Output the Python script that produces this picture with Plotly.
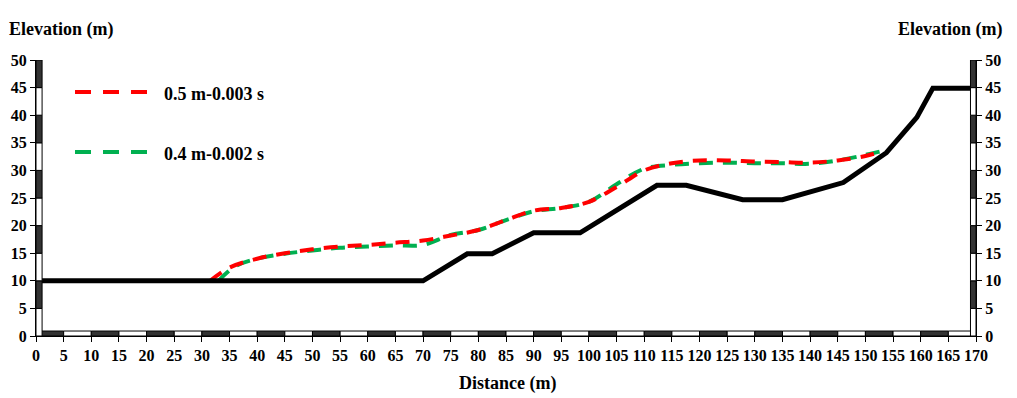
import plotly.graph_objects as go

# ground profile
ground_x = [0, 70, 78, 82.5, 90, 98.4, 112.3, 117.6, 127.8, 135, 146, 153.8, 159.3, 162.2, 170]
ground_y = [10, 10, 14.9, 14.9, 18.7, 18.7, 27.3, 27.3, 24.7, 24.7, 27.8, 33.2, 39.6, 44.9, 44.9]

# 0.5 m-0.003 s
red_x = [31.5, 35, 40, 45, 50, 55, 60, 65, 70, 75, 80, 85, 90, 95, 100, 105, 110, 115, 120, 125, 130, 135, 140, 145, 150, 153]
red_y = [10, 12.4, 14.0, 15.0, 15.7, 16.2, 16.5, 16.9, 17.3, 18.2, 19.2, 21.0, 22.7, 23.2, 24.3, 27.0, 30.0, 31.3, 31.8, 31.8, 31.6, 31.5, 31.4, 31.8, 32.6, 33.5]

# 0.4 m-0.002 s
green_x = [33, 36, 40, 45, 50, 55, 60, 65, 70, 75, 80, 85, 90, 95, 100, 105, 110, 115, 120, 125, 130, 135, 140, 145, 150, 153]
green_y = [10, 12.6, 14.0, 14.9, 15.5, 16.0, 16.2, 16.4, 16.5, 18.3, 19.2, 21.0, 22.6, 23.2, 24.3, 27.5, 30.3, 31.0, 31.3, 31.4, 31.3, 31.3, 31.2, 31.8, 32.8, 33.5]

legend_names = ["0.5 m-0.003 s", "0.4 m-0.002 s"]
legend_colors = ["#ff0000", "#00b050"]

FONT = "Liberation Serif"
tick_font = dict(family=FONT, size=16, color="black", weight="bold")
title_font = dict(family=FONT, size=18, color="black", weight="bold")

# page body has an 8px margin: plot area lands at x 36..976, y 60..336 on screen
OFF = 8
L, T = 36 - OFF, 60 - OFF
W, H = 1017 - 2 * OFF, 398 - OFF
R = OFF + W - 976
B = OFF + H - 336
PW, PH = 940, 276


def px(x):
    return (x - 36) / PW


def py(y):
    return (336 - y) / PH


fig = go.Figure()
fig.add_trace(go.Scatter(x=green_x, y=green_y, mode="lines", line_shape="spline",
                         line=dict(color=legend_colors[1], width=4, dash="14px,10px"),
                         showlegend=False))
fig.add_trace(go.Scatter(x=red_x, y=red_y, mode="lines", line_shape="spline",
                         line=dict(color=legend_colors[0], width=4, dash="14px,10px"),
                         showlegend=False))
fig.add_trace(go.Scatter(x=ground_x, y=ground_y, mode="lines",
                         line=dict(color="black", width=5), showlegend=False))
# invisible trace for the right axis
fig.add_trace(go.Scatter(x=[0], y=[0], yaxis="y2", mode="markers",
                         marker=dict(opacity=0), showlegend=False, hoverinfo="skip"))

# scale-bar strips along the axes
shapes = []
for i in range(34):
    shapes.append(dict(type="rect", xref="x", yref="y", x0=i * 5, x1=i * 5 + 5, y0=0, y1=0.9,
                       fillcolor="#333333" if i % 2 == 0 else "white",
                       line=dict(color="black", width=1), layer="above"))
for i in range(10):
    fill = "#333333" if i % 2 == 1 else "white"
    shapes.append(dict(type="rect", xref="x", yref="y", x0=0, x1=1.1, y0=i * 5, y1=i * 5 + 5,
                       fillcolor=fill, line=dict(color="black", width=1), layer="above"))
    shapes.append(dict(type="rect", xref="x", yref="y", x0=169, x1=170, y0=i * 5, y1=i * 5 + 5,
                       fillcolor=fill, line=dict(color="black", width=1), layer="above"))

# manual legend
annotations = []
for k, (name, col) in enumerate(zip(legend_names, legend_colors)):
    yp = 92 + 60 * k
    shapes.append(dict(type="line", xref="paper", yref="paper",
                       x0=px(75), x1=px(147), y0=py(yp), y1=py(yp),
                       line=dict(color=col, width=4, dash="16px,12px")))
    annotations.append(dict(xref="paper", yref="paper", x=px(162), y=py(yp + 2),
                            xanchor="left", yanchor="middle", text=name, showarrow=False,
                            font=title_font))

annotations += [
    dict(xref="paper", yref="paper", x=px(7), y=py(30), xanchor="left",
         yanchor="middle", text="Elevation (m)", showarrow=False, font=title_font),
    dict(xref="paper", yref="paper", x=px(1004), y=py(30), xanchor="right",
         yanchor="middle", text="Elevation (m)", showarrow=False, font=title_font),
    dict(xref="paper", yref="paper", x=px(508), y=py(383), xanchor="center",
         yanchor="middle", text="Distance (m)", showarrow=False, font=title_font),
]

axis_style = dict(range=[0, 50], dtick=5, tick0=0, showgrid=False, zeroline=False,
                  showline=True, linecolor="black", linewidth=1, ticks="outside", ticklen=5,
                  tickcolor="black", tickfont=tick_font, automargin=False)

fig.update_layout(
    width=W, height=H,
    margin=dict(l=L, r=R, t=T, b=B),
    plot_bgcolor="white", paper_bgcolor="white",
    shapes=shapes, annotations=annotations,
    xaxis=dict(range=[0, 170], dtick=5, tick0=0, showgrid=False, zeroline=False,
               showline=True, linecolor="black", linewidth=1, ticks="outside", ticklen=5,
               tickcolor="black", tickfont=tick_font, tickangle=0, automargin=False),
    yaxis=axis_style,
    yaxis2=dict(axis_style, overlaying="y", side="right"),
)

fig.write_html("out.html")
